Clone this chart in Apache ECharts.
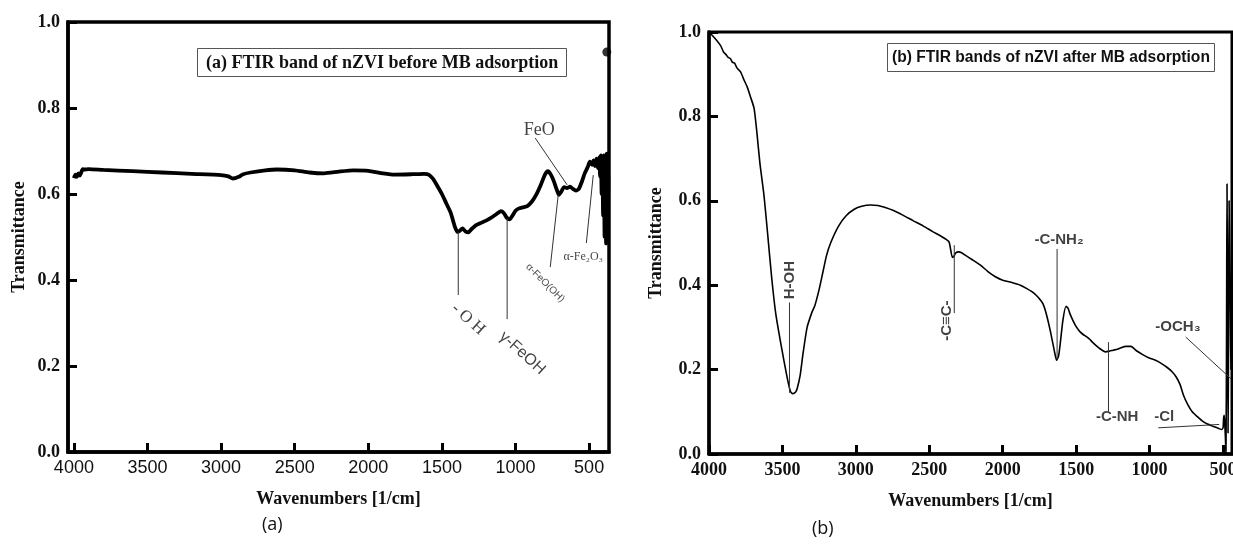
<!DOCTYPE html>
<html>
<head>
<meta charset="utf-8">
<script src="https://cdn.jsdelivr.net/npm/echarts@6/dist/echarts.min.js"></script>
<style>html,body{margin:0;padding:0;background:#fff}#c{width:1233px;height:546px}</style>
</head>
<body>
<div id="c"></div>
<script>
// ---------- data ----------
const xTicks = [500, 1000, 1500, 2000, 2500, 3000, 3500, 4000];
const yTicks = [0, 0.2, 0.4, 0.6, 0.8, 1.0];

// (a) before MB adsorption
const wnA = [4000,3990,3980,3970,3960,3950,3940,3930,3900,3800,3600,3400,3200,3000,2950,2920,2880,2850,2800,2700,2620,2500,2400,2300,2200,2100,2000,1900,1820,1700,1620,1590,1560,1530,1500,1470,1440,1415,1395,1380,1360,1340,1320,1300,1270,1240,1200,1170,1130,1100,1080,1060,1040,1020,1000,980,950,920,890,860,830,800,780,760,740,720,705,690,670,650,630,610,590,570,550,530,510,495,480,470,460,450,440,432,425,420,415,410,405,400,395,390,385,380,375,370];
const tA  = [0.637,0.645,0.640,0.648,0.643,0.650,0.658,0.657,0.658,0.656,0.653,0.650,0.647,0.644,0.641,0.636,0.640,0.646,0.650,0.655,0.657,0.655,0.650,0.648,0.652,0.655,0.654,0.648,0.645,0.646,0.647,0.645,0.635,0.618,0.600,0.578,0.556,0.527,0.512,0.514,0.520,0.513,0.511,0.518,0.527,0.532,0.538,0.544,0.553,0.560,0.556,0.545,0.541,0.550,0.561,0.566,0.569,0.572,0.582,0.598,0.620,0.645,0.653,0.645,0.630,0.610,0.598,0.605,0.616,0.614,0.617,0.612,0.608,0.612,0.628,0.648,0.662,0.675,0.668,0.678,0.665,0.682,0.660,0.685,0.640,0.690,0.600,0.680,0.550,0.690,0.500,0.680,0.485,0.694,0.490,0.640];
const dotA = [[380, 0.93]];

// (b) after MB adsorption
const wnB = [4000,3960,3920,3900,3885,3870,3855,3840,3825,3810,3786,3760,3740,3719,3693,3674,3653,3626,3599,3573,3546,3506,3466,3445,3430,3410,3399,3380,3359,3332,3300,3279,3250,3225,3200,3172,3118,3065,3011,2960,2900,2851,2800,2744,2680,2611,2540,2477,2420,2383,2365,2355,2343,2330,2322,2300,2280,2250,2210,2150,2103,2050,2000,1943,1880,1836,1790,1756,1725,1702,1675,1649,1633,1620,1609,1590,1569,1555,1542,1520,1502,1475,1448,1430,1408,1390,1368,1340,1301,1270,1248,1220,1194,1160,1127,1100,1087,1050,1007,960,927,880,847,820,793,770,740,710,673,640,606,570,540,526,510,500,496,492,488,484,480,476,473,469,466,462,459,455,452,448,446,442,440];
const tB  = [1.0,0.985,0.967,0.952,0.947,0.940,0.937,0.928,0.926,0.915,0.906,0.885,0.870,0.848,0.819,0.762,0.688,0.614,0.515,0.417,0.334,0.252,0.178,0.148,0.143,0.147,0.156,0.185,0.240,0.300,0.335,0.352,0.390,0.430,0.470,0.500,0.540,0.565,0.580,0.587,0.590,0.589,0.584,0.577,0.566,0.553,0.540,0.527,0.516,0.508,0.502,0.485,0.466,0.470,0.476,0.479,0.477,0.470,0.461,0.447,0.433,0.420,0.412,0.407,0.400,0.392,0.382,0.370,0.355,0.330,0.290,0.245,0.222,0.232,0.260,0.318,0.350,0.345,0.332,0.315,0.303,0.290,0.282,0.278,0.272,0.265,0.258,0.250,0.242,0.244,0.246,0.248,0.252,0.255,0.255,0.248,0.244,0.236,0.228,0.222,0.216,0.205,0.195,0.183,0.165,0.140,0.117,0.100,0.088,0.078,0.071,0.066,0.062,0.060,0.058,0.062,0.085,0.092,0.070,0.040,0.000,0.300,0.640,0.300,0.050,0.300,0.600,0.500,0.420,0.250,0.200,0.350,0.500];

// annotation labels (text, wavenumber, transmittance, rotation)
const labelsA = [
  {t:'- O H', x:1322, y:0.309, r:-42, f:'serif', s:17},
  {t:'γ-FeOH', x:954, y:0.230, r:-42, f:'sans', s:16},
  {t:'FeO', x:839, y:0.749, r:0, f:'serif', s:18},
  {t:'α-FeO(OH)', x:798, y:0.393, r:-45, f:'sans', s:10},
  {t:'α-Fe₂O₃', x:540, y:0.453, r:0, f:'serif', s:12}
];
const leadersA = [
  [[1389,0.512],[1389,0.365]],
  [[1057,0.544],[1057,0.309]],
  [[866,0.730],[649,0.621]],
  [[710,0.598],[764,0.430]],
  [[472,0.644],[519,0.486]]
];
const labelsB = [
  {t:'H-OH', x:3452, y:0.412, r:90},
  {t:'-C≡C-', x:2383, y:0.316, r:90},
  {t:'-C-NH₂', x:1617, y:0.507, r:0},
  {t:'-C-NH', x:1221, y:0.088, r:0},
  {t:'-Cl', x:900, y:0.088, r:0},
  {t:'-OCH₃', x:807, y:0.302, r:0}
];
const leadersB = [
  [[3452,0.359],[3452,0.145]],
  [[2330,0.495],[2330,0.334]],
  [[1630,0.486],[1630,0.224]],
  [[1280,0.265],[1280,0.100]],
  [[941,0.062],[526,0.070]],
  [[754,0.277],[445,0.178]]
];

// ---------- chart ----------
const SERIF = 'Liberation Serif';
const SANS = 'Liberation Sans';
const pairs = (xs, ys) => xs.map((x, i) => [x, ys[i]]);

function xAxisCfg(gi, min, max, labelFont, labelWeight) {
  return {
    type: 'value', gridIndex: gi, min: min, max: max, inverse: true,
    name: 'Wavenumbers [1/cm]', nameLocation: 'middle', nameGap: 38,
    nameTextStyle: {fontFamily: SERIF, fontWeight: 'bold', fontSize: 18, color: '#111'},
    axisLine: {show: true, onZero: false, lineStyle: {color: '#000', width: 3.5}},
    axisTick: {show: true, inside: true, length: 9, customValues: xTicks, lineStyle: {color: '#000', width: 3}},
    axisLabel: {customValues: xTicks, showMinLabel: true, showMaxLabel: true, hideOverlap: false, margin: 7,
      formatter: v => String(v), fontFamily: labelFont, fontWeight: labelWeight, fontSize: 18, color: '#111'},
    splitLine: {show: false}
  };
}
function yAxisCfg(gi, gap) {
  return {
    type: 'value', gridIndex: gi, min: 0, max: 1, interval: 0.2,
    name: 'Transmittance', nameLocation: 'middle', nameGap: gap,
    nameTextStyle: {fontFamily: SERIF, fontWeight: 'bold', fontSize: 18, color: '#111'},
    axisLine: {show: true, lineStyle: {color: '#000', width: 3.5}},
    axisTick: {show: true, inside: true, length: 9, lineStyle: {color: '#000', width: 3}},
    axisLabel: {margin: 8, formatter: v => v.toFixed(1), fontFamily: SERIF, fontWeight: 'bold', fontSize: 18, color: '#111'},
    splitLine: {show: false}
  };
}

const series = [];
series.push({type: 'line', xAxisIndex: 0, yAxisIndex: 0, data: pairs(wnA, tA), showSymbol: false, symbol: 'none',
  smooth: 0.2, lineStyle: {color: '#000', width: 3.8}, z: 3, silent: true});
series.push({type: 'scatter', xAxisIndex: 0, yAxisIndex: 0, data: dotA, symbolSize: 9, itemStyle: {color: '#000'}, silent: true});
series.push({type: 'line', xAxisIndex: 1, yAxisIndex: 1, data: pairs(wnB, tB), showSymbol: false, symbol: 'none',
  smooth: 0.2, lineStyle: {color: '#000', width: 1.6}, z: 3, silent: true});

leadersA.forEach(seg => series.push({type: 'line', xAxisIndex: 0, yAxisIndex: 0, data: seg, symbol: 'none',
  lineStyle: {color: '#333', width: 1}, silent: true}));
leadersB.forEach(seg => series.push({type: 'line', xAxisIndex: 1, yAxisIndex: 1, data: seg, symbol: 'none',
  lineStyle: {color: '#333', width: 1}, silent: true}));

labelsA.forEach(l => series.push({type: 'scatter', xAxisIndex: 0, yAxisIndex: 0, data: [[l.x, l.y]],
  symbolSize: 1, itemStyle: {color: 'rgba(0,0,0,0)'}, silent: true,
  label: {show: true, position: 'inside', rotate: l.r, formatter: l.t, color: '#111',
    fontFamily: l.f === 'serif' ? SERIF : SANS, fontSize: l.s}}));
labelsB.forEach(l => series.push({type: 'scatter', xAxisIndex: 1, yAxisIndex: 1, data: [[l.x, l.y]],
  symbolSize: 1, itemStyle: {color: 'rgba(0,0,0,0)'}, silent: true,
  label: {show: true, position: 'inside', rotate: l.r, formatter: l.t, color: '#111',
    fontFamily: SANS, fontWeight: 'bold', fontSize: 15}}));

const chart = echarts.init(document.getElementById('c'), null, {renderer: 'canvas'});
chart.setOption({
  animation: false,
  backgroundColor: '#fff',
  title: [
    {text: '(a) FTIR band of nZVI before MB adsorption', left: 197, top: 48, borderWidth: 1, borderColor: '#555',
      padding: [6, 9, 5, 9], textStyle: {fontFamily: SERIF, fontWeight: 'bold', fontSize: 18, color: '#111'}},
    {text: '(b) FTIR bands of nZVI after MB adsorption', left: 887, top: 43, borderWidth: 1, borderColor: '#555',
      padding: [7, 5, 6, 5], textStyle: {fontFamily: SANS, fontWeight: 'bold', fontSize: 15.6, color: '#111'}}
  ],
  grid: [
    {left: 68, top: 22, width: 541, height: 430, show: true, borderColor: '#000', borderWidth: 3.5,
      backgroundColor: 'transparent', containLabel: false, outerBoundsMode: 'none'},
    {left: 709, top: 32, width: 523, height: 422, show: true, borderColor: '#000', borderWidth: 3,
      backgroundColor: 'transparent', containLabel: false, outerBoundsMode: 'none'}
  ],
  xAxis: [xAxisCfg(0, 365, 4040, SANS, 'normal'), xAxisCfg(1, 439, 4000, SERIF, 'bold')],
  yAxis: [yAxisCfg(0, 40), yAxisCfg(1, 44)],
  series: series,
  graphic: [
    {type: 'text', left: 262, top: 516, style: {text: '(a)', font: '18px "Open Sans"', fill: '#111'}},
    {type: 'text', left: 812, top: 520, style: {text: '(b)', font: '18px "Open Sans"', fill: '#111'}}
  ]
});
</script>
</body>
</html>
